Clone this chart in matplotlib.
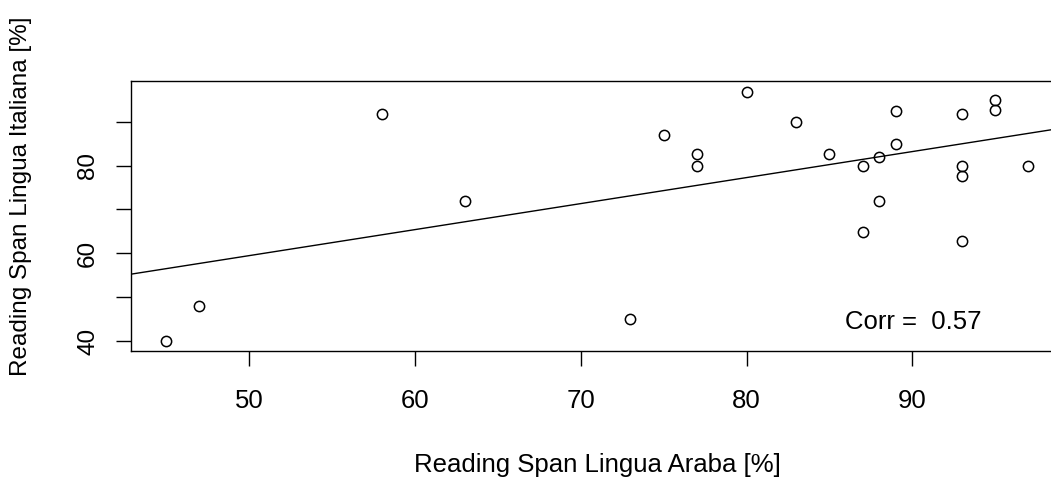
import matplotlib
matplotlib.use("Agg")
import matplotlib.pyplot as plt
import numpy as np

plt.rcParams['font.family'] = ['Liberation Sans', 'DejaVu Sans']

# reading span scores, arabic (x) vs italian (y)
araba = [45, 47, 58, 63, 73, 75, 77, 77, 80, 83, 85, 87, 87, 88, 88, 89, 89,
         93, 93, 93, 93, 95, 95, 97]
italiana = [40, 48, 91.75, 72, 45, 87, 82.7, 80, 96.8, 90, 82.7, 80, 64.8, 81.9,
            72, 85, 92.5, 91.75, 80, 77.7, 62.9, 94.9, 92.6, 80]
xticks = [50, 60, 70, 80, 90]
yticks = [40, 50, 60, 70, 80, 90]
ylabels = ['40', '', '60', '', '80', '']
corr_label = 'Corr =  0.57'

x = np.array(araba, dtype=float)
y = np.array(italiana, dtype=float)

fs = 18.5
fs_y = 17.5

fig = plt.figure(figsize=(10.51, 4.8), dpi=100)
ax = fig.add_axes([0.1251, 0.26875, 1.0114 - 0.1251, 0.83125 - 0.26875])

ax.plot(x, y, 'o', mfc='none', mec='black', ms=7.4, mew=1.1)

# least squares line across the whole panel
b, a = np.polyfit(x, y, 1)
xl = np.array([40, 100])
ax.plot(xl, a + b * xl, color='black', lw=1.0)

# R-style 4% padding on the data range
xr = x.max() - x.min()
ax.set_xlim(x.min() - 0.04 * xr, x.max() + 0.04 * xr)
ax.set_ylim(37.72, 99.28)

ax.set_xticks(xticks)
ax.set_yticks(yticks)
ax.set_yticklabels(ylabels, rotation=90, va='center')
ax.tick_params(direction='out', length=10.8, width=1.0)
ax.tick_params(axis='x', pad=16.2, labelsize=fs)
ax.tick_params(axis='y', pad=12.5, labelsize=fs_y)
for s in ax.spines.values():
    s.set_linewidth(1.0)

ax.set_xlabel('Reading Span Lingua Araba [%]', fontsize=fs)
ax.xaxis.set_label_coords(0.5, -0.4222)
ax.xaxis.label.set_va('center')
ax.set_ylabel('Reading Span Lingua Italiana [%]', fontsize=fs_y)
ax.yaxis.set_label_coords(-0.1186, 0.574)
ax.yaxis.label.set_va('center')
ax.yaxis.label.set_ha('center')

ax.text(85.93, 44.4, corr_label, fontsize=fs, ha='left', va='center')

fig.savefig('out.png', dpi=100)
